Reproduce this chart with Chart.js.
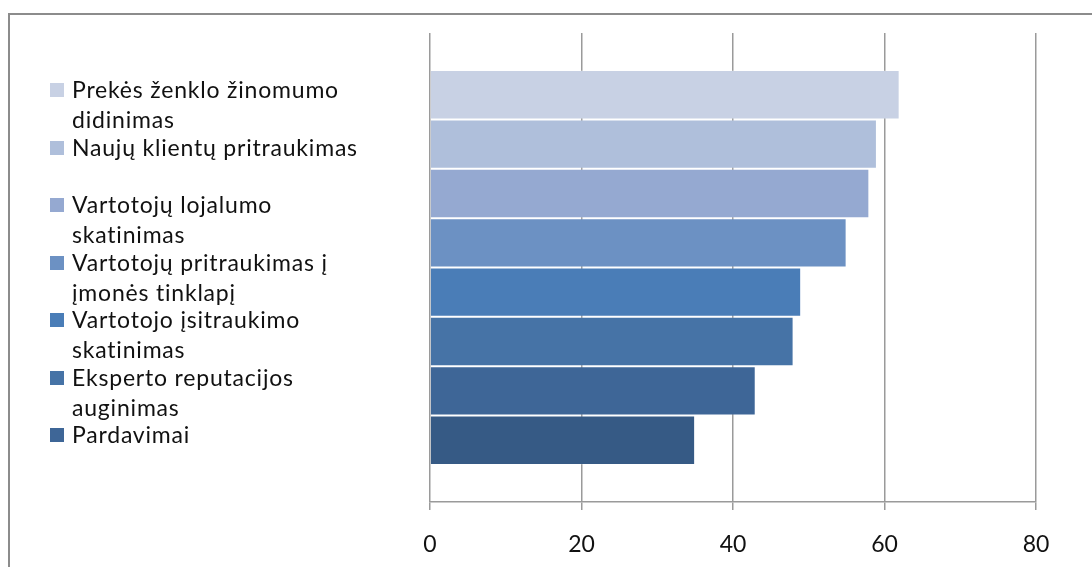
<!DOCTYPE html>
<html>
<head>
<meta charset="utf-8">
<script src="https://cdn.jsdelivr.net/npm/chart.js@4.4.1/dist/chart.umd.min.js"></script>
<style>
  html, body { margin: 0; padding: 0; background: #fff; overflow: hidden; }
  #wrap { position: relative; width: 1092px; height: 567px; overflow: hidden; }
  #frame { position: absolute; left: 8px; top: 13px; width: 1200px; height: 700px;
           border-left: 2px solid #8c8c8c; border-top: 2px solid #8c8c8c; }
  #chart { position: absolute; left: 0; top: 0; }
  #legend { position: absolute; left: 50px; top: 0; font-family: Lato, sans-serif;
            font-size: 23px; letter-spacing: 0.8px; color: #111; }
  .item { position: absolute; left: 0; white-space: pre-line; line-height: 30px;
          padding-left: 22px; width: 360px; }
  .sw { position: absolute; left: 0; top: 9px; width: 14px; height: 14px; }
</style>
</head>
<body>
<div id="wrap">
  <div id="frame"></div>
  <canvas id="chart" width="1092" height="567"></canvas>
  <div id="legend"></div>
</div>
<script>
// Marketing goals, share of respondents (%)
const seriesNames = [
  'Prekės ženklo žinomumo\ndidinimas',
  'Naujų klientų pritraukimas',
  'Vartotojų lojalumo\nskatinimas',
  'Vartotojų pritraukimas į\nįmonės tinklapį',
  'Vartotojo įsitraukimo\nskatinimas',
  'Eksperto reputacijos\nauginimas',
  'Pardavimai',
  'Kita'
];
const seriesValues = [62, 59, 58, 55, 49, 48, 43, 35];
const seriesColors = ['#c8d1e4', '#afbfdb', '#95a9d1', '#6c91c3', '#4a7db7', '#4673a6', '#3e6697', '#365a85'];
const xTicks = [0, 20, 40, 60, 80];
// the legend box only has room for the first seven entries
const legendEntries = 7;

const datasets = seriesNames.map((name, i) => ({
  label: name,
  data: [seriesValues[i]],
  backgroundColor: seriesColors[i],
  borderColor: 'rgba(255,255,255,0.18)',
  borderWidth: 1,
  barPercentage: 1,
  categoryPercentage: 0.842
}));

const chart = new Chart(document.getElementById('chart'), {
  type: 'bar',
  data: { labels: [''], datasets },
  options: {
    indexAxis: 'y',
    responsive: false,
    animation: false,
    layout: { padding: { left: 430, right: 56, top: 33, bottom: 0 } },
    plugins: { legend: { display: false }, tooltip: { enabled: false } },
    scales: {
      x: {
        min: 0, max: 80,
        afterBuildTicks: s => { s.ticks = xTicks.map(v => ({ value: v })); },
        afterFit: s => { s.height = 65; },
        ticks: { color: '#111', font: { family: 'Lato', size: 23 }, padding: 21 },
        grid: { color: '#9a9a9a', lineWidth: 1.5, tickLength: 8 },
        border: { color: '#9a9a9a', width: 1.5 }
      },
      y: { display: false }
    }
  }
});

// legend column on the left, built from the datasets
const legend = document.getElementById('legend');
chart.data.datasets.slice(0, legendEntries).forEach((ds, i) => {
  const item = document.createElement('div');
  item.className = 'item';
  item.style.top = (74 + 57.5 * i) + 'px';
  const sw = document.createElement('span');
  sw.className = 'sw';
  sw.style.background = ds.backgroundColor;
  item.appendChild(sw);
  item.appendChild(document.createTextNode(ds.label));
  legend.appendChild(item);
});
</script>
</body>
</html>
